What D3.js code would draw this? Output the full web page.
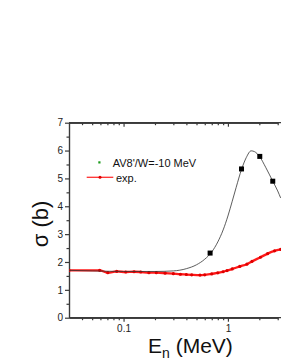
<!DOCTYPE html>
<html>
<head>
<meta charset="utf-8">
<script src="https://cdn.jsdelivr.net/npm/d3@7"></script>
<style>
  body { margin: 0; background: #fff; }
  svg { display: block; font-family: "Liberation Sans", Arial, sans-serif; }
  .axis path, .axis line { stroke: #3a3a3a; stroke-width: 1.2; }
  .axis text { fill: #222; font-size: 10px; }
</style>
</head>
<body>
<div id="chart"></div>
<script>
// theory curve (AV8'/W=-10 MeV), energy in MeV, sigma in b
const calcE = [0.03, 0.05, 0.1, 0.2, 0.3, 0.4, 0.5, 0.6, 0.7, 0.8, 0.9, 1.0, 1.1, 1.2, 1.35, 1.5, 1.67, 1.8, 2.0, 2.3, 2.69, 3.0, 3.2];
const calcS = [1.70, 1.68, 1.66, 1.66, 1.68, 1.76, 1.90, 2.10, 2.36, 2.72, 3.15, 3.65, 4.18, 4.68, 5.32, 5.75, 5.99, 5.96, 5.80, 5.40, 4.90, 4.55, 4.30];
// calculated points (squares)
const markE = [0.675, 1.35, 2.02, 2.69];
const markS = [2.32, 5.34, 5.79, 4.90];
// experiment
const expE = [0.03, 0.059, 0.0706, 0.086, 0.105, 0.126, 0.146, 0.175, 0.206, 0.25, 0.3, 0.35, 0.4, 0.45, 0.54, 0.6, 0.7, 0.8, 0.9, 0.98, 1.1, 1.3, 1.52, 1.7, 2.05, 2.4, 2.8, 3.2];
const expS = [1.70, 1.70, 1.615, 1.66, 1.64, 1.65, 1.64, 1.615, 1.615, 1.60, 1.58, 1.56, 1.55, 1.54, 1.53, 1.54, 1.57, 1.61, 1.65, 1.69, 1.75, 1.84, 1.92, 2.02, 2.17, 2.30, 2.40, 2.45];

const yMajor = [0, 1, 2, 3, 4, 5, 6, 7];
const yMinor = [0.5, 1.5, 2.5, 3.5, 4.5, 5.5, 6.5];
const xMajor = [0.1, 1];
const xMinor = [0.04, 0.05, 0.06, 0.07, 0.08, 0.09, 0.2, 0.3, 0.4, 0.5, 0.6, 0.7, 0.8, 0.9, 2, 3];

const W = 281, H = 363;
const pLeft = 69, pTop = 122.7, pBottom = 317.7, pRight = 290;

const svg = d3.select('#chart').append('svg')
  .attr('width', W).attr('height', H);

const x = d3.scaleLog().domain([0.03, 3]).range([pLeft, 277.7]);
const y = d3.scaleLinear().domain([0, 7]).range([pBottom, pTop]);

svg.append('defs').append('clipPath').attr('id', 'clip')
  .append('rect').attr('x', pLeft).attr('y', pTop)
  .attr('width', pRight - pLeft).attr('height', pBottom - pTop);

// axes
const fmt = d => d === 1 ? '1' : '0.1';
svg.append('g').attr('class', 'axis')
  .attr('transform', `translate(0,${pBottom})`)
  .call(d3.axisBottom(x).tickValues(xMajor).tickFormat(fmt).tickSizeInner(4).tickSizeOuter(0).tickPadding(3));
svg.append('g').attr('class', 'axis')
  .attr('transform', `translate(0,${pBottom})`)
  .call(d3.axisBottom(x).tickValues(xMinor).tickFormat('').tickSizeInner(2.5).tickSizeOuter(0));
svg.append('g').attr('class', 'axis')
  .attr('transform', `translate(0,${pTop})`)
  .call(d3.axisTop(x).tickValues(xMajor).tickFormat('').tickSizeInner(-4).tickSizeOuter(0));
svg.append('g').attr('class', 'axis')
  .attr('transform', `translate(0,${pTop})`)
  .call(d3.axisTop(x).tickValues(xMinor).tickFormat('').tickSizeInner(-2.5).tickSizeOuter(0));

svg.append('g').attr('class', 'axis')
  .attr('transform', `translate(${pLeft},0)`)
  .call(d3.axisLeft(y).tickValues(yMajor).tickFormat(d3.format('d')).tickSizeInner(4).tickSizeOuter(0).tickPadding(2));
svg.append('g').attr('class', 'axis')
  .attr('transform', `translate(${pLeft},0)`)
  .call(d3.axisLeft(y).tickValues(yMinor).tickFormat('').tickSizeInner(2.5).tickSizeOuter(0));

// frame lines (extend past right edge)
svg.append('line').attr('x1', pLeft).attr('x2', pRight).attr('y1', pTop).attr('y2', pTop)
  .attr('stroke', '#3a3a3a').attr('stroke-width', 1.2);
svg.append('line').attr('x1', pLeft).attr('x2', pRight).attr('y1', pBottom).attr('y2', pBottom)
  .attr('stroke', '#3a3a3a').attr('stroke-width', 1.2);

const plot = svg.append('g').attr('clip-path', 'url(#clip)');

const calc = calcE.map((e, i) => ({ e, s: calcS[i] }));
const exp = expE.map((e, i) => ({ e, s: expS[i] }));
const marks = markE.map((e, i) => ({ e, s: markS[i] }));

const line = d3.line().x(d => x(d.e)).y(d => y(d.s)).curve(d3.curveMonotoneX);

plot.append('path').datum(exp)
  .attr('d', line)
  .attr('fill', 'none').attr('stroke', '#ff1a1a').attr('stroke-width', 2.3);
plot.selectAll('circle.exp').data(exp).enter().append('circle')
  .attr('class', 'exp')
  .attr('cx', d => x(d.e)).attr('cy', d => y(d.s)).attr('r', 1.6)
  .attr('fill', '#e00000');

plot.append('path').datum(calc)
  .attr('d', line)
  .attr('fill', 'none').attr('stroke', '#333').attr('stroke-width', 0.8);

plot.selectAll('rect.mark').data(marks).enter().append('rect')
  .attr('class', 'mark')
  .attr('x', d => x(d.e) - 2.5).attr('y', d => y(d.s) - 2.5)
  .attr('width', 5).attr('height', 5).attr('fill', '#000');

// legend
const lg = svg.append('g').attr('font-size', 11).attr('fill', '#111');
lg.append('rect').attr('x', 98.3).attr('y', 161.3).attr('width', 2.2).attr('height', 2.2).attr('fill', '#1a9a1a');
lg.append('text').attr('x', 112.7).attr('y', 166.5).text("AV8'/W=-10 MeV");
lg.append('line').attr('x1', 86.7).attr('x2', 113.3).attr('y1', 177.3).attr('y2', 177.3)
  .attr('stroke', '#ff3030').attr('stroke-width', 1.3);
lg.append('circle').attr('cx', 100).attr('cy', 177.3).attr('r', 1.5).attr('fill', '#e00000');
lg.append('text').attr('x', 116).attr('y', 182).text('exp.');

// axis titles
const xt = svg.append('text').attr('x', 148).attr('y', 353).attr('font-size', 21).attr('fill', '#111');
xt.append('tspan').text('E');
xt.append('tspan').attr('font-size', 14).attr('dy', 5).text('n');
xt.append('tspan').attr('dy', -5).text(' (MeV)');

svg.append('text')
  .attr('transform', 'translate(48,224) rotate(-90)')
  .attr('text-anchor', 'middle').attr('font-size', 22).attr('fill', '#111')
  .text('σ (b)');
</script>
</body>
</html>
